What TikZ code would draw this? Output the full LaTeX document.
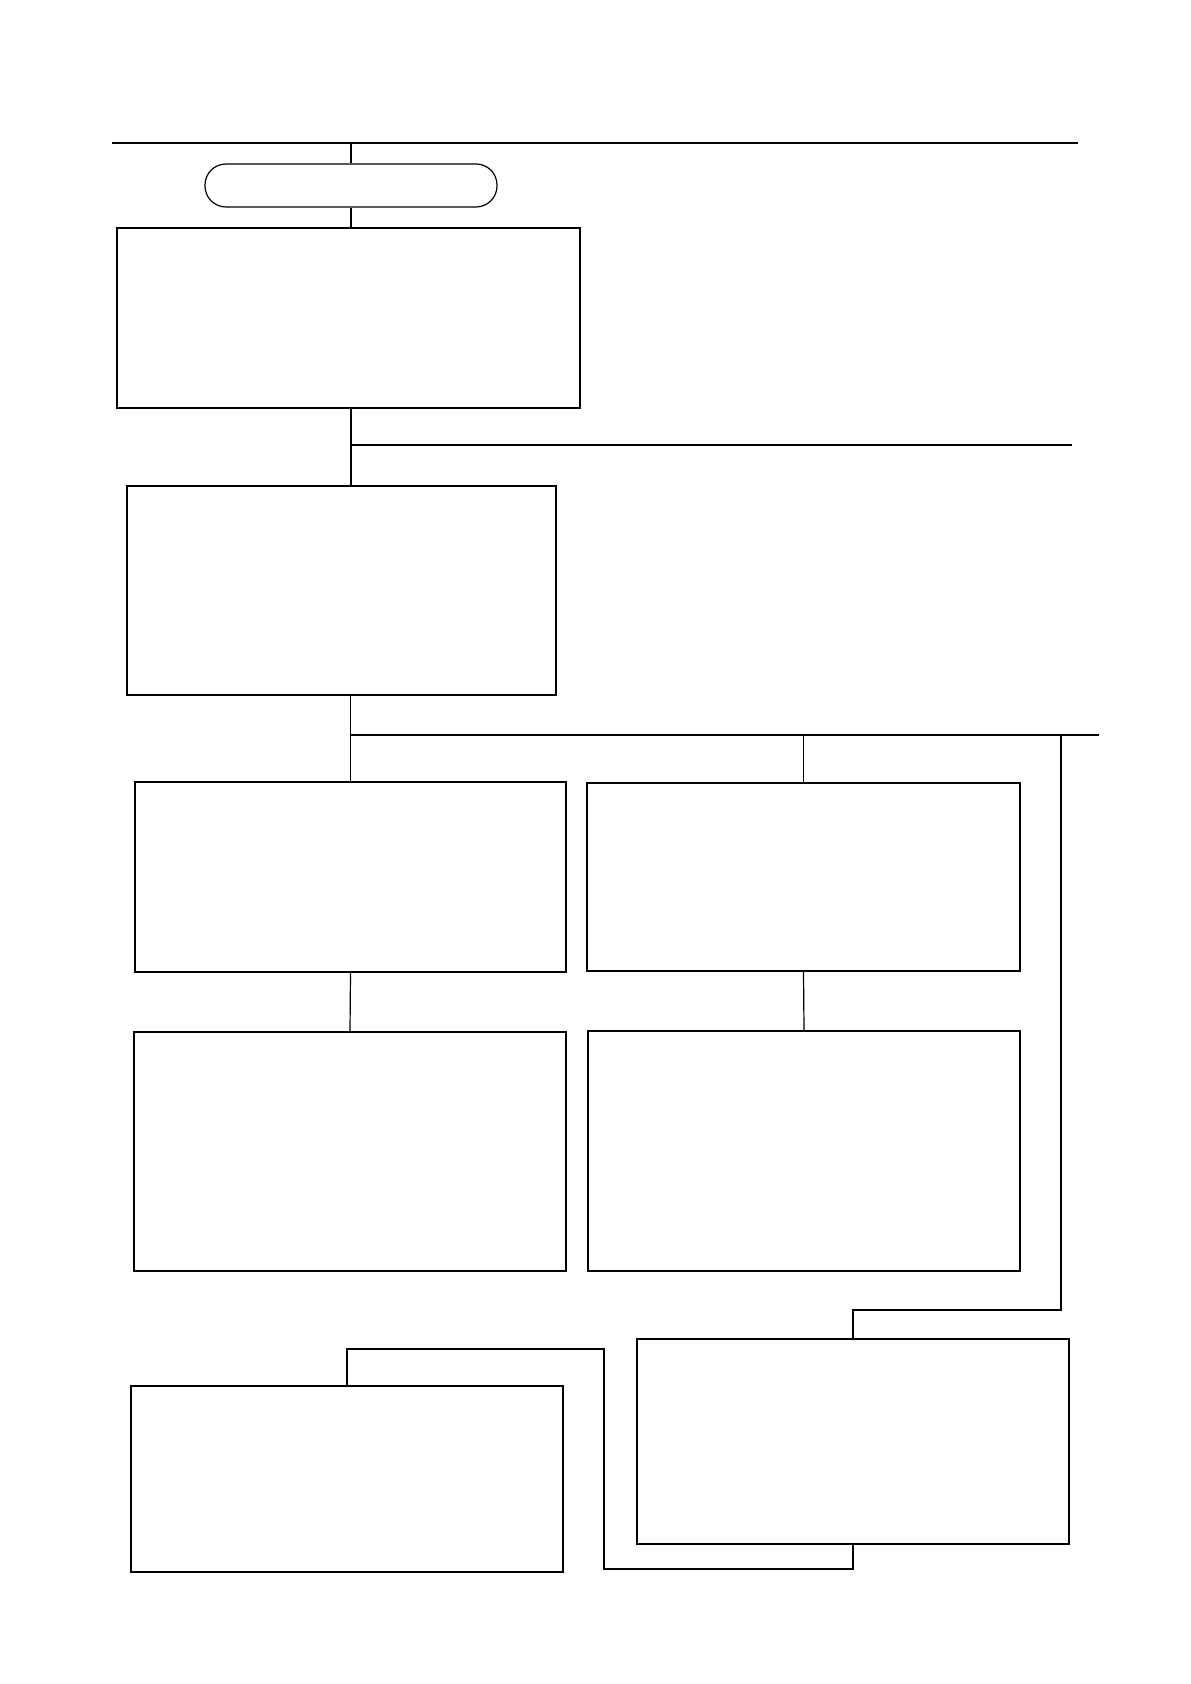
\documentclass[tikz,border=0pt]{standalone}
\usetikzlibrary{calc}
\tikzset{
  blk/.style={draw, line width=1pt, inner sep=0pt},
  thinblk/.style={draw, line width=.6pt, inner sep=0pt},
  ln/.style={line width=.6pt}
}
\begin{document}
\begin{tikzpicture}[x=.5pt,y=-.5pt]
                \useasboundingbox (0,0) rectangle (1190,1684);
                % boxes
                \node[thinblk,rounded corners=10.5pt,minimum width=146pt,minimum height=21.5pt] (term) at (351,185.5) {};
                \node[blk,line width=1.2pt,minimum width=231.5pt,minimum height=90pt] (box1) at (348.5,318) {};
                \node[blk,minimum width=214.5pt,minimum height=104.5pt] (box2) at (341.5,590.5) {};
                \node[thinblk,minimum width=215.5pt,minimum height=95pt] (box3) at (350.5,877) {};
                \node[blk,minimum width=216.5pt,minimum height=94pt] (box4) at (803.5,877) {};
                \node[thinblk,minimum width=216pt,minimum height=119.5pt] (box5) at (350,1151.5) {};
                \node[thinblk,minimum width=216pt,minimum height=120pt] (box6) at (804,1151) {};
                \node[blk,minimum width=216pt,minimum height=102.5pt] (box7) at (853,1441.5) {};
                \node[blk,minimum width=216pt,minimum height=93pt] (box8) at (347,1479) {};
                % free ends
                \coordinate (topL) at (112,143);
                \coordinate (topR) at (1078,143);
                \coordinate (colA) at (351,445);
                \coordinate (midR) at (1072,445);
                \coordinate (forkR) at (1099,735);
                \coordinate (sideR) at (1061,735);
                \coordinate (sideB) at (1061,1310);
                \coordinate (loopB) at (604,1569);
                \coordinate (loopT) at (604,1349);
                % connectors
                \draw[ln] (topL) -- (topR);
                \draw[ln] (term.north |- topL) -- (term.north);
                \draw[ln] (term.south) -- (term.south |- box1.north);
                \draw[ln] (colA |- box1.south) -- (colA |- box2.north);
                \draw[ln] (colA) -- (midR);
                \draw[ln] (box2.south -| box3.north) -- (box3.north);
                \draw[ln] (box3.north |- forkR) -- (forkR);
                \draw[line width=1pt] (sideR) -- (forkR);
                \draw[ln] (box4.north |- forkR) -- (box4.north);
                \draw[ln] (box3.south) -- (box5.north);
                \draw[ln] (box4.south) -- (box6.north);
                \draw[ln] (sideR) -- (sideB) -- (sideB -| box7.north) -- (box7.north);
                \draw[ln] (box7.south) -- (box7.south |- loopB) -- (loopB) -- (loopT) -- (loopT -| box8.north) -- (box8.north);
\end{tikzpicture}
\end{document}
